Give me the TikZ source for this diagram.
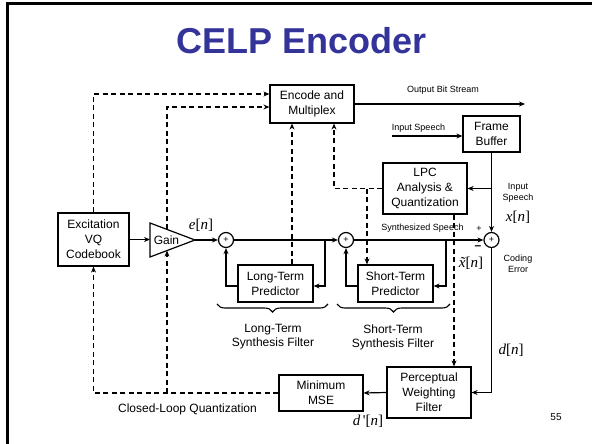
\documentclass[tikz,border=0pt]{standalone}
\usepackage{fontspec}
\setmainfont{Liberation Sans}
\newfontfamily\serifm{Liberation Serif}
\usetikzlibrary{arrows.meta,decorations.pathreplacing}
\definecolor{titleblue}{RGB}{51,51,153}
\begin{document}
\begin{tikzpicture}[x=1pt,y=-1pt,
  box/.style={draw,line width=1.2pt,align=center,inner sep=0pt,font=\fontsize{12}{15}\selectfont},
  sumnode/.style={draw,circle,line width=1.2pt,minimum size=15pt,inner sep=0pt,font=\fontsize{9}{9}\selectfont},
  arr/.style={line width=1.2pt,-{Stealth[length=6pt,width=5pt]}},
  darr/.style={line width=1.2pt,dash pattern=on 5pt off 3.5pt,-{Stealth[length=6pt,width=5pt]}},
  dline/.style={line width=1.2pt,dash pattern=on 5pt off 3.5pt},
  small/.style={font=\fontsize{9}{11}\selectfont,align=center,inner sep=0pt},
  lab/.style={font=\fontsize{12}{14}\selectfont,align=center,inner sep=0pt},
  mlab/.style={font=\fontsize{15}{17}\serifm,inner sep=0pt},
  bracestyle/.style={line width=1.1pt,decorate,decoration={brace,mirror,amplitude=8pt}}
]
\useasboundingbox (0,0) rectangle (592,444);
\fill[white] (0,0) rectangle (592,444);
\draw[line width=3pt] (7,444) -- (7,4) -- (592,4);

\node[font=\fontsize{36}{40}\selectfont\bfseries,text=titleblue] (title) at (302,41) {CELP Encoder};

% boxes
\node[box,minimum width=84pt,minimum height=38pt] (enc) at (312,104) {Encode and\\Multiplex};
\node[box,minimum width=57pt,minimum height=36pt] (fb) at (491.5,134) {Frame\\Buffer};
\node[box,minimum width=71pt,minimum height=53pt] (exc) at (93.5,239.5) {Excitation\\VQ\\Codebook};
\node[box,minimum width=84pt,minimum height=51pt] (lpc) at (425,188.5) {LPC\\Analysis \&\\Quantization};
\node[box,minimum width=75pt,minimum height=37pt] (ltp) at (275.5,283.5) {Long-Term\\Predictor};
\node[box,minimum width=75pt,minimum height=37pt] (stp) at (395.5,283.5) {Short-Term\\Predictor};
\node[box,minimum width=84pt,minimum height=51pt] (pwf) at (429,392.5) {Perceptual\\Weighting\\Filter};
\node[box,minimum width=84pt,minimum height=36pt] (mse) at (321,393) {Minimum\\MSE};

% gain triangle
\coordinate (gA) at (150,223);
\coordinate (gB) at (150,257);
\coordinate (gC) at (195,240);
\coordinate (gT) at (167,229.4);
\coordinate (gD) at (167,250.6);
\draw[line width=1.2pt,line join=miter] (gA) -- (gC) -- (gB) -- cycle;
\node[lab] (gain) at (166.5,240) {Gain};

% summing junctions
\node[sumnode] (s1) at (226,240) {+};
\node[sumnode] (s2) at (346,240) {+};
\node[sumnode] (s3) at (491.5,240) {+};

% solid connectors
\coordinate (obs) at (525,104);
\draw[arr] (enc.east) -- (obs);
\node[small] (lobs) at (443,90) {Output Bit Stream};
\coordinate (isp) at (392,136);
\draw[arr] (isp) -- (isp -| fb.west);
\node[small] (lisp) at (418.5,128) {Input Speech};
\draw[arr] (fb.south) -- (s3.north);
\draw[arr] (fb.south |- lpc.east) -- (lpc.east);
\draw[arr] (exc.east) -- (gA |- exc.east);
\draw[arr] (gC) -- (s1.west);
\draw[arr] (s1.east) -- (s2.west);
\coordinate (b1) at (325,240);
\draw[arr] (b1) |- ([yshift=-2.5pt]ltp.east);
\draw[arr] ([yshift=-2.5pt]ltp.west) -| (s1.south);
\draw[arr] (s2.east) -- (s3.west);
\coordinate (b2) at (446,240);
\draw[arr] (b2) |- ([yshift=-2.5pt]stp.east);
\draw[arr] ([yshift=-2.5pt]stp.west) -| (s2.south);
\draw[arr] (s3.south) |- (pwf.east);
\draw[arr] (pwf.west) -- (mse.east);

% dashed connectors
\draw[darr] (mse.west) -| (exc.south);
\coordinate (b3) at (167,393);
\draw[darr] (b3) -- (gD);
\path (enc.west) ++(0,-10) coordinate (e1);
\path (enc.west) ++(0,3) coordinate (e2);
\draw[darr] (exc.north) |- (e1);
\draw[darr] (gT) |- (e2);
\path (ltp.north) ++(16.5,0) coordinate (lt1);
\draw[darr] (lt1) -- (lt1 |- enc.south);
\path (enc.south) ++(22,0) coordinate (e3);
\draw[darr] (lpc.west) -| (e3);
\coordinate (b4) at (367,188.5);
\draw[darr] (b4) -- (b4 |- stp.north);
\path (lpc.south) ++(29,0) coordinate (lp2);
\draw[darr] (lp2) -- (lp2 |- pwf.north);

% labels
\node[mlab] (len) at (201,225) {{\itshape e}[{\itshape n}]};
\node[small] (lss) at (422.5,228) {Synthesized Speech};
\node[small] (lplus) at (479,229) {+};
\node[font=\fontsize{12}{12}\selectfont\bfseries,inner sep=0pt] (lminus) at (478,247.5) {--};
\node[mlab] (lxt) at (471,263) {{\itshape \~x}[{\itshape n}]};
\node[small] (linsp) at (518,192.5) {Input\\Speech};
\node[mlab] (lxn) at (518,217) {{\itshape x}[{\itshape n}]};
\node[small] (lce) at (518,263.5) {Coding\\Error};
\node[mlab] (ldn) at (511,350) {{\itshape d}[{\itshape n}]};
\node[mlab] (ldp) at (368,421) {{\itshape d\,}'[{\itshape n}]};
\node[font=\fontsize{10}{12}\selectfont,inner sep=0pt] (pg) at (556,417) {55};
\node[lab] (lclq) at (187.5,409) {Closed-Loop Quantization};

% braces
\coordinate (br1a) at (217,304);
\coordinate (br1b) at (328,304);
\coordinate (br2a) at (337,304);
\coordinate (br2b) at (450,304);
\draw[bracestyle] (br1a) -- (br1b);
\draw[bracestyle] (br2a) -- (br2b);
\node[lab,font=\fontsize{12}{14}\selectfont] (llt) at (273,337) {Long-Term\\Synthesis Filter};
\node[lab,font=\fontsize{12}{14}\selectfont] (lst) at (393,337) {Short-Term\\Synthesis Filter};
\end{tikzpicture}
\end{document}
